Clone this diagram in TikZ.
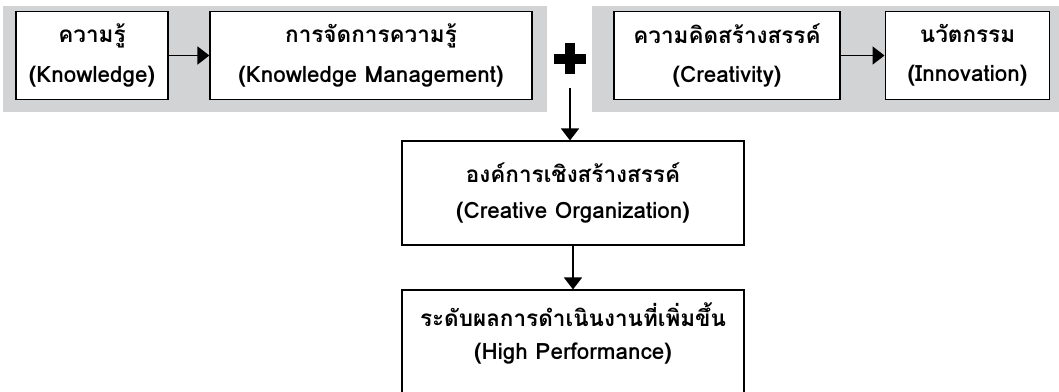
\documentclass[tikz,border=0pt]{standalone}
\usepackage{fontspec}
\setmainfont[Script=Thai]{Loma}
\usepackage{tikz}
\usetikzlibrary{arrows.meta,positioning}
\definecolor{panelgray}{RGB}{209,211,212}

\begin{document}
\begin{tikzpicture}[
    x=0.025cm, y=-0.025cm,
    >=Triangle,
    box/.style={draw, line width=0.8pt, fill=white, align=center, inner sep=0pt,
                minimum height=2.22cm, font=\bfseries\fontsize{16}{28}\selectfont},
    bigbox/.style={box, minimum width=8.55cm, font=\bfseries\fontsize{16}{26}\selectfont},
    panel/.style={fill=panelgray},
    arr/.style={-{Triangle[length=0.3cm, width=0.45cm]}, line width=1.3pt},
]
\useasboundingbox (0,0) rectangle (1059,391);

% --- Gray panels ---
\fill[panel] (3,6) rectangle (547,112);
\fill[panel] (592,6) rectangle (1059,112);

% --- Top row ---
\node[box, minimum width=3.8cm] (know) at (92,55.5) {ความรู้\\(Knowledge)};
\node[box, minimum width=8.05cm] (kman) at (371,55.5) {การจัดการความรู้\\(Knowledge Management)};
\node[box, minimum width=5.65cm] (creat) at (727,55.5) {ความคิดสร้างสรรค์\\(Creativity)};
\node[box, minimum width=4.12cm] (innov) at (967.5,55.5) {นวัตกรรม\\(Innovation)};

\draw[arr] (know) -- (kman);
\draw[arr] (creat) -- (innov);

% --- Plus sign ---
\coordinate (plus) at (570,58.5);
\fill ([xshift=-0.39cm, yshift=-0.125cm]plus) rectangle ([xshift=0.39cm, yshift=0.125cm]plus);
\fill ([xshift=-0.125cm, yshift=-0.39cm]plus) rectangle ([xshift=0.125cm, yshift=0.39cm]plus);
\coordinate (plusfoot) at (570,88);

% --- Lower boxes ---
\node[bigbox, minimum height=2.6cm] (org) at (573,193) {องค์การเชิงสร้างสรรค์\\(Creative Organization)};
\node[bigbox, minimum height=2.75cm, text depth=0.7cm, font=\bfseries\fontsize{16}{23}\selectfont] (perf) at (573,345)
    {ระดับผลการดำเนินงานที่เพิ่มขึ้น\\(High Performance)};

\draw[arr] (plusfoot) -- (plusfoot |- org.north);
\draw[arr] (org) -- (perf);

\end{tikzpicture}
\end{document}
